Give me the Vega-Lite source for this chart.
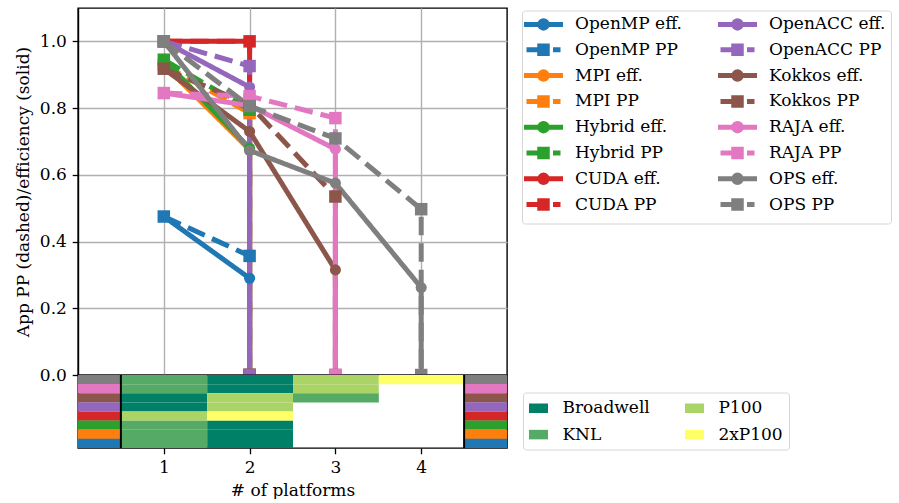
{
  "$schema": "https://vega.github.io/schema/vega-lite/v6.json",
  "background": "white",
  "padding": {"left": 13, "top": 7, "right": 0, "bottom": 0},
  "spacing": 0,
  "bounds": "flush",
  "config": {
    "font": "DejaVu Serif",
    "view": {"stroke": "black", "strokeWidth": 1.4},
    "axis": {
      "labelFont": "DejaVu Serif", "titleFont": "DejaVu Serif",
      "labelFontSize": 17, "titleFontSize": 17, "titleFontWeight": "normal",
      "labelColor": "black", "titleColor": "black",
      "tickColor": "black", "tickSize": 5.8, "tickWidth": 1.3,
      "domainColor": "black", "domainWidth": 1.4,
      "labelPadding": 5.8, "titlePadding": 6.7,
      "gridColor": "#b0b0b0", "gridWidth": 1.4
    },
    "legend": {
      "labelFont": "DejaVu Serif", "labelFontSize": 17, "labelColor": "black",
      "strokeColor": "#d6d6d6", "strokeWidth": 1, "cornerRadius": 3,
      "fillColor": "white"
    }
  },
  "datasets": {
    "series": [
      {"app": "OpenMP", "metric": "eff", "series": "OpenMP eff.", "n": 1, "value": 0.475},
      {"app": "OpenMP", "metric": "eff", "series": "OpenMP eff.", "n": 2, "value": 0.29},
      {"app": "OpenMP", "metric": "eff", "series": "OpenMP eff.", "n": 2, "value": 0},
      {"app": "OpenMP", "metric": "PP", "series": "OpenMP PP", "n": 1, "value": 0.475},
      {"app": "OpenMP", "metric": "PP", "series": "OpenMP PP", "n": 2, "value": 0.357},
      {"app": "OpenMP", "metric": "PP", "series": "OpenMP PP", "n": 2, "value": 0},
      {"app": "MPI", "metric": "eff", "series": "MPI eff.", "n": 1, "value": 0.93},
      {"app": "MPI", "metric": "eff", "series": "MPI eff.", "n": 2, "value": 0.675},
      {"app": "MPI", "metric": "eff", "series": "MPI eff.", "n": 2, "value": 0},
      {"app": "MPI", "metric": "PP", "series": "MPI PP", "n": 1, "value": 0.93},
      {"app": "MPI", "metric": "PP", "series": "MPI PP", "n": 2, "value": 0.785},
      {"app": "MPI", "metric": "PP", "series": "MPI PP", "n": 2, "value": 0},
      {"app": "Hybrid", "metric": "eff", "series": "Hybrid eff.", "n": 1, "value": 0.945},
      {"app": "Hybrid", "metric": "eff", "series": "Hybrid eff.", "n": 2, "value": 0.68},
      {"app": "Hybrid", "metric": "eff", "series": "Hybrid eff.", "n": 2, "value": 0},
      {"app": "Hybrid", "metric": "PP", "series": "Hybrid PP", "n": 1, "value": 0.945},
      {"app": "Hybrid", "metric": "PP", "series": "Hybrid PP", "n": 2, "value": 0.795},
      {"app": "Hybrid", "metric": "PP", "series": "Hybrid PP", "n": 2, "value": 0},
      {"app": "CUDA", "metric": "eff", "series": "CUDA eff.", "n": 1, "value": 1.0},
      {"app": "CUDA", "metric": "eff", "series": "CUDA eff.", "n": 2, "value": 1.0},
      {"app": "CUDA", "metric": "eff", "series": "CUDA eff.", "n": 2, "value": 0},
      {"app": "CUDA", "metric": "PP", "series": "CUDA PP", "n": 1, "value": 1.0},
      {"app": "CUDA", "metric": "PP", "series": "CUDA PP", "n": 2, "value": 1.0},
      {"app": "CUDA", "metric": "PP", "series": "CUDA PP", "n": 2, "value": 0},
      {"app": "OpenACC", "metric": "eff", "series": "OpenACC eff.", "n": 1, "value": 1.0},
      {"app": "OpenACC", "metric": "eff", "series": "OpenACC eff.", "n": 2, "value": 0.863},
      {"app": "OpenACC", "metric": "eff", "series": "OpenACC eff.", "n": 2, "value": 0},
      {"app": "OpenACC", "metric": "PP", "series": "OpenACC PP", "n": 1, "value": 1.0},
      {"app": "OpenACC", "metric": "PP", "series": "OpenACC PP", "n": 2, "value": 0.926},
      {"app": "OpenACC", "metric": "PP", "series": "OpenACC PP", "n": 2, "value": 0},
      {"app": "Kokkos", "metric": "eff", "series": "Kokkos eff.", "n": 1, "value": 0.918},
      {"app": "Kokkos", "metric": "eff", "series": "Kokkos eff.", "n": 2, "value": 0.73},
      {"app": "Kokkos", "metric": "eff", "series": "Kokkos eff.", "n": 3, "value": 0.315},
      {"app": "Kokkos", "metric": "eff", "series": "Kokkos eff.", "n": 3, "value": 0},
      {"app": "Kokkos", "metric": "PP", "series": "Kokkos PP", "n": 1, "value": 0.918},
      {"app": "Kokkos", "metric": "PP", "series": "Kokkos PP", "n": 2, "value": 0.81},
      {"app": "Kokkos", "metric": "PP", "series": "Kokkos PP", "n": 3, "value": 0.535},
      {"app": "Kokkos", "metric": "PP", "series": "Kokkos PP", "n": 3, "value": 0},
      {"app": "RAJA", "metric": "eff", "series": "RAJA eff.", "n": 1, "value": 0.845},
      {"app": "RAJA", "metric": "eff", "series": "RAJA eff.", "n": 2, "value": 0.808},
      {"app": "RAJA", "metric": "eff", "series": "RAJA eff.", "n": 3, "value": 0.677},
      {"app": "RAJA", "metric": "eff", "series": "RAJA eff.", "n": 3, "value": 0},
      {"app": "RAJA", "metric": "PP", "series": "RAJA PP", "n": 1, "value": 0.845},
      {"app": "RAJA", "metric": "PP", "series": "RAJA PP", "n": 2, "value": 0.836},
      {"app": "RAJA", "metric": "PP", "series": "RAJA PP", "n": 3, "value": 0.77},
      {"app": "RAJA", "metric": "PP", "series": "RAJA PP", "n": 3, "value": 0},
      {"app": "OPS", "metric": "eff", "series": "OPS eff.", "n": 1, "value": 1.0},
      {"app": "OPS", "metric": "eff", "series": "OPS eff.", "n": 2, "value": 0.673},
      {"app": "OPS", "metric": "eff", "series": "OPS eff.", "n": 3, "value": 0.575},
      {"app": "OPS", "metric": "eff", "series": "OPS eff.", "n": 4, "value": 0.262},
      {"app": "OPS", "metric": "eff", "series": "OPS eff.", "n": 4, "value": 0},
      {"app": "OPS", "metric": "PP", "series": "OPS PP", "n": 1, "value": 1.0},
      {"app": "OPS", "metric": "PP", "series": "OPS PP", "n": 2, "value": 0.806},
      {"app": "OPS", "metric": "PP", "series": "OPS PP", "n": 3, "value": 0.709},
      {"app": "OPS", "metric": "PP", "series": "OPS PP", "n": 4, "value": 0.497},
      {"app": "OPS", "metric": "PP", "series": "OPS PP", "n": 4, "value": 0}
    ],
    "cells": [
      {"app": "OPS", "n": 1, "platform": "KNL"},
      {"app": "OPS", "n": 2, "platform": "Broadwell"},
      {"app": "OPS", "n": 3, "platform": "P100"},
      {"app": "OPS", "n": 4, "platform": "2xP100"},
      {"app": "RAJA", "n": 1, "platform": "KNL"},
      {"app": "RAJA", "n": 2, "platform": "Broadwell"},
      {"app": "RAJA", "n": 3, "platform": "P100"},
      {"app": "Kokkos", "n": 1, "platform": "Broadwell"},
      {"app": "Kokkos", "n": 2, "platform": "P100"},
      {"app": "Kokkos", "n": 3, "platform": "KNL"},
      {"app": "OpenACC", "n": 1, "platform": "Broadwell"},
      {"app": "OpenACC", "n": 2, "platform": "P100"},
      {"app": "CUDA", "n": 1, "platform": "P100"},
      {"app": "CUDA", "n": 2, "platform": "2xP100"},
      {"app": "Hybrid", "n": 1, "platform": "KNL"},
      {"app": "Hybrid", "n": 2, "platform": "Broadwell"},
      {"app": "MPI", "n": 1, "platform": "KNL"},
      {"app": "MPI", "n": 2, "platform": "Broadwell"},
      {"app": "OpenMP", "n": 1, "platform": "KNL"},
      {"app": "OpenMP", "n": 2, "platform": "Broadwell"}
    ],
    "apps": [
      {"app": "OPS"}, {"app": "RAJA"}, {"app": "Kokkos"}, {"app": "OpenACC"},
      {"app": "CUDA"}, {"app": "Hybrid"}, {"app": "MPI"}, {"app": "OpenMP"}
    ]
  },
  "vconcat": [
    {
      "width": 429,
      "height": 367,
      "data": {"name": "series"},
      "encoding": {
        "x": {"field": "n", "type": "quantitative",
              "scale": {"domain": [0, 5], "nice": false, "zero": false},
              "axis": {"values": [1, 2, 3, 4], "labels": false, "ticks": false, "domain": false, "title": null, "grid": true, "tickSize": 0, "labelPadding": 0}},
        "y": {"field": "value", "type": "quantitative",
              "scale": {"domain": [0, 1.1], "nice": false, "zero": false},
              "axis": {"values": [0, 0.2, 0.4, 0.6, 0.8, 1.0], "format": ".1f", "title": "App PP (dashed)/efficiency (solid)", "grid": true}},
        "color": {"field": "series", "type": "nominal",
          "scale": {
            "domain": ["OpenMP eff.", "OpenMP PP", "MPI eff.", "MPI PP", "Hybrid eff.", "Hybrid PP", "CUDA eff.", "CUDA PP", "OpenACC eff.", "OpenACC PP", "Kokkos eff.", "Kokkos PP", "RAJA eff.", "RAJA PP", "OPS eff.", "OPS PP"],
            "range": ["#1f77b4", "#1f77b4", "#ff7f0e", "#ff7f0e", "#2ca02c", "#2ca02c", "#d62728", "#d62728", "#9467bd", "#9467bd", "#8c564b", "#8c564b", "#e377c2", "#e377c2", "#7f7f7f", "#7f7f7f"]
          },
          "legend": {
            "title": null, "orient": "none", "legendX": 444, "legendY": 2.5,
            "columns": 2, "columnPadding": 25, "rowPadding": -3.2,
            "padding": 5, "symbolOffset": 8, "labelOffset": 23,
            "symbolSize": 100, "symbolStrokeWidth": 5
          }
        }
      },
      "layer": [
        {
          "mark": {"type": "line", "strokeWidth": 5, "strokeJoin": "round", "clip": true},
          "encoding": {
            "strokeDash": {"field": "metric", "type": "nominal",
              "scale": {"domain": ["eff", "PP"], "range": [[1, 0], [18.5, 8]]}, "legend": null},
            "order": [{"field": "n", "type": "quantitative"}, {"field": "value", "type": "quantitative", "sort": "descending"}]
          }
        },
        {
          "transform": [{"filter": "datum.metric === 'eff'"}],
          "mark": {"type": "point", "shape": "circle", "size": 123, "filled": true, "opacity": 1, "clip": true}
        },
        {
          "transform": [{"filter": "datum.metric === 'PP'"}],
          "mark": {"type": "point", "shape": "square", "size": 156, "filled": true, "opacity": 1, "clip": true}
        },
        {
          "transform": [{"filter": "false"}],
          "mark": {"type": "point", "filled": true, "opacity": 1},
          "encoding": {
            "shape": {"field": "series", "type": "nominal",
              "scale": {
                "domain": ["OpenMP eff.", "OpenMP PP", "MPI eff.", "MPI PP", "Hybrid eff.", "Hybrid PP", "CUDA eff.", "CUDA PP", "OpenACC eff.", "OpenACC PP", "Kokkos eff.", "Kokkos PP", "RAJA eff.", "RAJA PP", "OPS eff.", "OPS PP"],
                "range": [
                  "M-3.9,0H3.9M0.75,0A0.75,0.75,0,1,1,-0.75,0A0.75,0.75,0,1,1,0.75,0Z",
                  "M-3.4,0H-1.25M1.9,0H3.4M-0.75,-0.75H0.75V0.75H-0.75Z",
                  "M-3.9,0H3.9M0.75,0A0.75,0.75,0,1,1,-0.75,0A0.75,0.75,0,1,1,0.75,0Z",
                  "M-3.4,0H-1.25M1.9,0H3.4M-0.75,-0.75H0.75V0.75H-0.75Z",
                  "M-3.9,0H3.9M0.75,0A0.75,0.75,0,1,1,-0.75,0A0.75,0.75,0,1,1,0.75,0Z",
                  "M-3.4,0H-1.25M1.9,0H3.4M-0.75,-0.75H0.75V0.75H-0.75Z",
                  "M-3.9,0H3.9M0.75,0A0.75,0.75,0,1,1,-0.75,0A0.75,0.75,0,1,1,0.75,0Z",
                  "M-3.4,0H-1.25M1.9,0H3.4M-0.75,-0.75H0.75V0.75H-0.75Z",
                  "M-3.9,0H3.9M0.75,0A0.75,0.75,0,1,1,-0.75,0A0.75,0.75,0,1,1,0.75,0Z",
                  "M-3.4,0H-1.25M1.9,0H3.4M-0.75,-0.75H0.75V0.75H-0.75Z",
                  "M-3.9,0H3.9M0.75,0A0.75,0.75,0,1,1,-0.75,0A0.75,0.75,0,1,1,0.75,0Z",
                  "M-3.4,0H-1.25M1.9,0H3.4M-0.75,-0.75H0.75V0.75H-0.75Z",
                  "M-3.9,0H3.9M0.75,0A0.75,0.75,0,1,1,-0.75,0A0.75,0.75,0,1,1,0.75,0Z",
                  "M-3.4,0H-1.25M1.9,0H3.4M-0.75,-0.75H0.75V0.75H-0.75Z",
                  "M-3.9,0H3.9M0.75,0A0.75,0.75,0,1,1,-0.75,0A0.75,0.75,0,1,1,0.75,0Z",
                  "M-3.4,0H-1.25M1.9,0H3.4M-0.75,-0.75H0.75V0.75H-0.75Z"
                ]
              },
              "legend": {
                "title": null, "orient": "none", "legendX": 444, "legendY": 2.5,
                "columns": 2, "columnPadding": 25, "rowPadding": -3.2,
                "padding": 5, "symbolOffset": 8, "labelOffset": 23,
                "symbolSize": 100, "symbolStrokeWidth": 5
              }
            }
          }
        }
      ]
    },
    {
      "width": 429,
      "height": 73,
      "layer": [
        {
          "data": {"name": "cells"},
          "mark": {"type": "rect", "binSpacing": 0},
          "encoding": {
            "x": {"field": "n", "type": "quantitative",
                  "bin": {"extent": [0.5, 4.5], "step": 1, "nice": false},
                  "scale": {"domain": [0, 5], "nice": false, "zero": false},
                  "axis": {"values": [1, 2, 3, 4], "format": "d", "title": "# of platforms", "grid": false, "domain": false}},
            "y": {"field": "app", "type": "nominal",
                  "sort": ["OPS", "RAJA", "Kokkos", "OpenACC", "CUDA", "Hybrid", "MPI", "OpenMP"],
                  "scale": {"paddingInner": 0, "paddingOuter": 0}, "axis": null},
            "fill": {"field": "platform", "type": "nominal",
              "scale": {"domain": ["Broadwell", "KNL", "P100", "2xP100"], "range": ["#008066", "#55aa66", "#aad466", "#ffff66"]},
              "legend": {
                "title": null, "orient": "none", "legendX": 445, "legendY": 384.5,
                "columns": 2, "columnPadding": 35, "rowPadding": 8.6,
                "padding": 6, "symbolOffset": 0, "labelOffset": 14.4,
                "symbolType": "M-1,-0.5H1V0.5H-1Z", "symbolSize": 361, "symbolStrokeWidth": 0
              }
            }
          }
        },
        {
          "data": {"name": "apps"},
          "mark": {"type": "rule", "strokeWidth": 9.2, "strokeCap": "butt"},
          "encoding": {
            "x": {"datum": 0}, "x2": {"datum": 0.5},
            "y": {"field": "app", "type": "nominal", "sort": ["OPS", "RAJA", "Kokkos", "OpenACC", "CUDA", "Hybrid", "MPI", "OpenMP"]},
            "stroke": {"field": "app", "type": "nominal",
              "scale": {"domain": ["OpenMP", "MPI", "Hybrid", "CUDA", "OpenACC", "Kokkos", "RAJA", "OPS"],
                        "range": ["#1f77b4", "#ff7f0e", "#2ca02c", "#d62728", "#9467bd", "#8c564b", "#e377c2", "#7f7f7f"]},
              "legend": null}
          }
        },
        {
          "data": {"name": "apps"},
          "mark": {"type": "rule", "strokeWidth": 9.2, "strokeCap": "butt"},
          "encoding": {
            "x": {"datum": 4.5}, "x2": {"datum": 5},
            "y": {"field": "app", "type": "nominal", "sort": ["OPS", "RAJA", "Kokkos", "OpenACC", "CUDA", "Hybrid", "MPI", "OpenMP"]},
            "stroke": {"field": "app", "type": "nominal", "legend": null}
          }
        },
        {
          "data": {"values": [{"edge": 0.5}, {"edge": 4.5}]},
          "mark": {"type": "rule", "color": "black", "strokeWidth": 2},
          "encoding": {"x": {"field": "edge", "type": "quantitative"}}
        }
      ]
    }
  ]
}
